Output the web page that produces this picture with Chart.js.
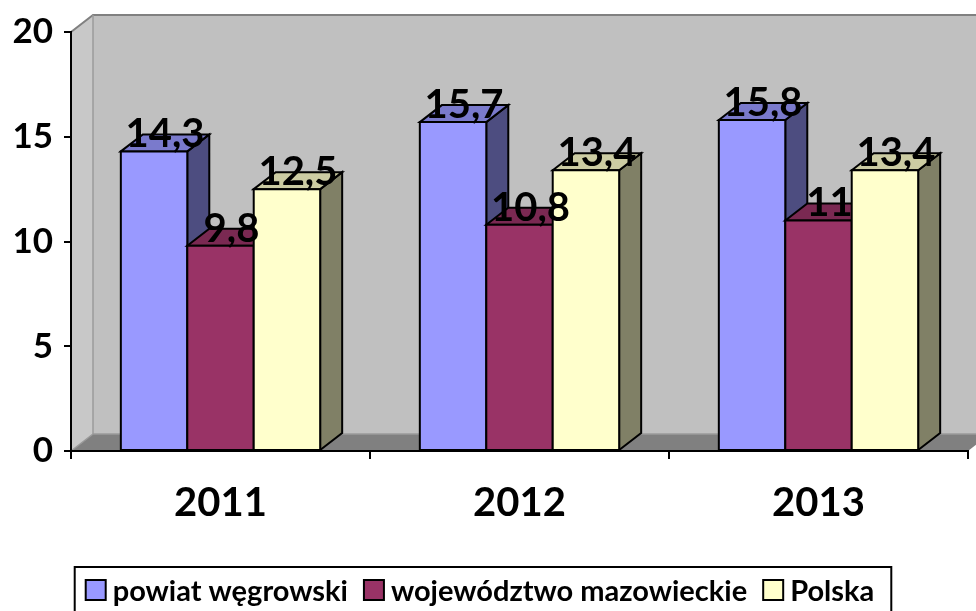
<!DOCTYPE html>
<html>
<head>
<meta charset="utf-8">
<script src="https://cdn.jsdelivr.net/npm/chart.js@4/dist/chart.umd.min.js"></script>
<style>
  html, body { margin: 0; padding: 0; background: #fff; }
  #wrap { width: 976px; height: 611px; position: relative; }
</style>
</head>
<body>
<div id="wrap"><canvas id="chart" width="976" height="611"></canvas></div>
<script>
"use strict"

const years = ['2011', '2012', '2013'];
const powiat = [14.3, 15.7, 15.8];
const mazowieckie = [9.8, 10.8, 11];
const polska = [12.5, 13.4, 13.4];
const seriesNames = ['powiat węgrowski', 'województwo mazowieckie', 'Polska'];
const yTicks = [0, 5, 10, 15, 20];

// front, top and side colours, like the old Excel 3D look
const frontColors = ['#9999ff', '#993366', '#ffffcc'];
const topColors = ['#7a7acc', '#7a2952', '#cccca3'];
const sideColors = ['#4d4d80', '#4d1a33', '#808066'];

const FONT = 'Lato, "Open Sans", sans-serif';
const WEIGHT = 'bold';
const DX = 22;   // depth shift right
const DY = 17;   // depth shift up

function byId(id) {
    return document.getElementById(id);
}

function fmt(v) {
    return String(v).replace('.', ',');
}

function poly(ctx, pts, fill, stroke, lw) {
    ctx.beginPath();
    ctx.moveTo(pts[0][0], pts[0][1]);
    for (let i = 1; i < pts.length; i++) ctx.lineTo(pts[i][0], pts[i][1]);
    ctx.closePath();
    if (fill) {
        ctx.fillStyle = fill;
        ctx.fill();
    }
    if (stroke) {
        ctx.strokeStyle = stroke;
        ctx.lineWidth = lw || 1;
        ctx.stroke();
    }
}

/**
 * Walls and floor behind the bars.
 */
const wallsPlugin = {
    id: 'walls',
    beforeDraw(chart) {
        const { ctx, chartArea: a } = chart;
        const W = chart.width;
        ctx.save();
        // back wall
        poly(ctx, [[a.left + DX, a.top - DY], [W + 5, a.top - DY], [W + 5, a.bottom - DY], [a.left + DX, a.bottom - DY]], '#c0c0c0');
        // left side wall
        poly(ctx, [[a.left, a.top], [a.left + DX, a.top - DY], [a.left + DX, a.bottom - DY], [a.left, a.bottom]], '#c8c8c8');
        // floor
        poly(ctx, [[a.left, a.bottom], [a.left + DX, a.bottom - DY], [a.right + DX, a.bottom - DY], [a.right, a.bottom]], '#808080');

        ctx.strokeStyle = '#808080';
        ctx.lineWidth = 2;
        ctx.beginPath();
        ctx.moveTo(a.left, a.top);
        ctx.lineTo(a.left + DX, a.top - DY);
        ctx.lineTo(W + 5, a.top - DY);
        ctx.stroke();

        ctx.strokeStyle = '#9a9a9a';
        ctx.lineWidth = 1.5;
        ctx.beginPath();
        ctx.moveTo(a.left + DX, a.top - DY);
        ctx.lineTo(a.left + DX, a.bottom - DY);
        ctx.lineTo(W + 5, a.bottom - DY);
        ctx.moveTo(a.left, a.bottom);
        ctx.lineTo(a.left + DX, a.bottom - DY);
        ctx.stroke();
        ctx.restore();
    }
};

/**
 * Draws the bars as boxes (front, top, side) and the value labels.
 */
const boxesPlugin = {
    id: 'boxes',
    beforeDatasetDraw() {
        return false;
    },
    afterDatasetsDraw(chart) {
        const ctx = chart.ctx;
        ctx.save();
        ctx.lineJoin = 'miter';
        const n = chart.data.labels.length;
        for (let c = 0; c < n; c++) {
            chart.data.datasets.forEach((ds, d) => {
                const bar = chart.getDatasetMeta(d).data[c];
                const l = bar.x - bar.width / 2;
                const r = bar.x + bar.width / 2;
                const t = bar.y;
                const b = bar.base;
                poly(ctx, [[r, t], [r + DX, t - DY], [r + DX, b - DY], [r, b]], sideColors[d], '#000', 2);
                poly(ctx, [[l, t], [l + DX, t - DY], [r + DX, t - DY], [r, t]], topColors[d], '#000', 2);
                poly(ctx, [[l, t], [r, t], [r, b], [l, b]], frontColors[d], '#000', 2);
            });
        }
        // value labels
        ctx.fillStyle = '#000';
        ctx.font = WEIGHT + ' 40px ' + FONT;
        ctx.textAlign = 'center';
        ctx.textBaseline = 'middle';
        chart.data.datasets.forEach((ds, d) => {
            chart.getDatasetMeta(d).data.forEach((bar, i) => {
                ctx.fillText(fmt(ds.data[i]), bar.x + DX / 2, bar.y - DY);
            });
        });
        ctx.restore();
    }
};

/**
 * Legend in a box under the axis.
 */
const legendPlugin = {
    id: 'boxLegend',
    afterDraw(chart) {
        const ctx = chart.ctx;
        ctx.save();
        ctx.font = WEIGHT + ' 29px ' + FONT;
        const mark = 20, gapText = 7, gapItem = 16, padL = 11, padR = 17;
        const widths = seriesNames.map(s => ctx.measureText(s).width);
        let total = padL + padR;
        widths.forEach((w, i) => total += mark + gapText + w + (i > 0 ? gapItem : 0));
        const boxLeft = 483 - total / 2;
        const boxTop = 567;
        ctx.strokeStyle = '#000';
        ctx.lineWidth = 2;
        ctx.strokeRect(boxLeft, boxTop, total, 80);

        let x = boxLeft + padL;
        ctx.textBaseline = 'alphabetic';
        ctx.textAlign = 'left';
        seriesNames.forEach((s, i) => {
            ctx.fillStyle = frontColors[i];
            ctx.fillRect(x, 580, mark, mark);
            ctx.strokeStyle = '#000';
            ctx.lineWidth = 2;
            ctx.strokeRect(x, 580, mark, mark);
            ctx.fillStyle = '#000';
            ctx.fillText(s, x + mark + gapText, 601);
            x += mark + gapText + widths[i] + gapItem;
        });
        ctx.restore();
    }
};

function initChart() {
    const values = [powiat, mazowieckie, polska];
    const datasets = values.map((data, i) => ({
        label: seriesNames[i],
        data: data,
        backgroundColor: frontColors[i],
        borderWidth: 0,
        categoryPercentage: 3 / 4.5,
        barPercentage: 1
    }));

    new Chart(byId('chart'), {
        type: 'bar',
        data: { labels: years, datasets: datasets },
        options: {
            responsive: false,
            animation: false,
            layout: { padding: { top: 29, right: 8, bottom: 0, left: 0 } },
            plugins: {
                legend: { display: false },
                tooltip: { enabled: false }
            },
            scales: {
                x: {
                    afterFit: scale => { scale.height = 160; },
                    grid: { offset: true, drawOnChartArea: false, drawTicks: true, tickLength: 8, color: '#000', lineWidth: 2 },
                    border: { color: '#000', width: 2 },
                    ticks: { color: '#000', font: { family: FONT, size: 40, weight: WEIGHT }, padding: 20 }
                },
                y: {
                    min: yTicks[0],
                    max: yTicks[yTicks.length - 1],
                    afterFit: scale => { scale.width = 71; },
                    afterBuildTicks: scale => { scale.ticks = yTicks.map(v => ({ value: v })); },
                    grid: { drawOnChartArea: false, drawTicks: true, tickLength: 7, color: '#000', lineWidth: 2 },
                    border: { color: '#000', width: 2 },
                    ticks: { color: '#000', font: { family: FONT, size: 35, weight: WEIGHT }, padding: 11 }
                }
            }
        },
        plugins: [wallsPlugin, boxesPlugin, legendPlugin]
    });
}

initChart();
</script>
</body>
</html>
